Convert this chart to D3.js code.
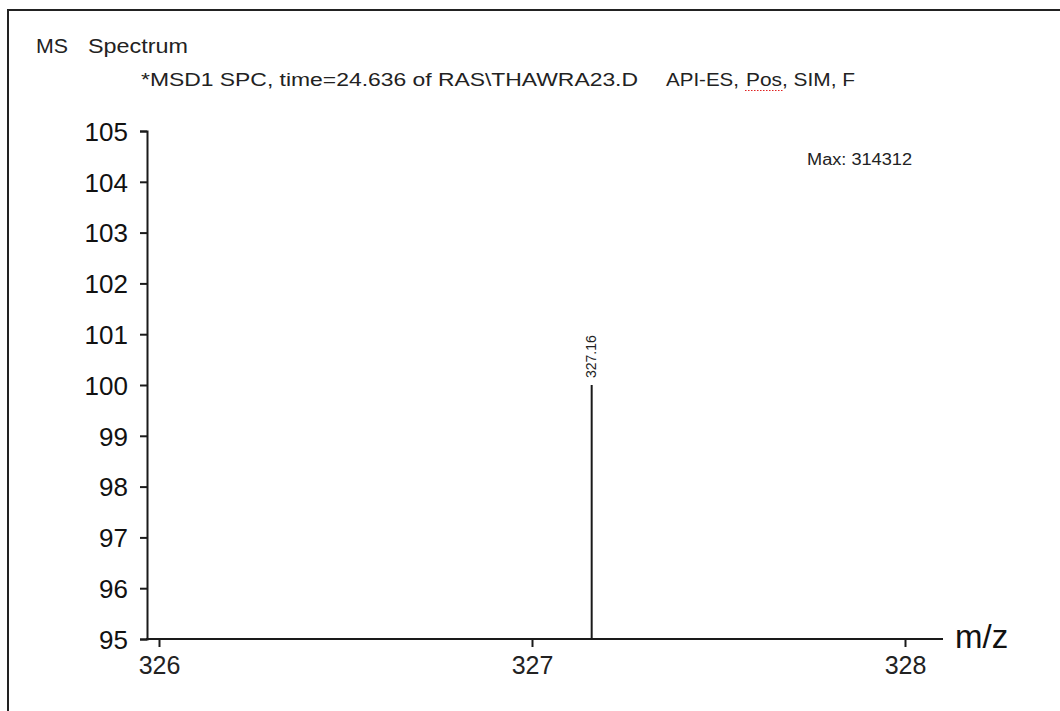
<!DOCTYPE html>
<html>
<head>
<meta charset="utf-8">
<script src="https://cdn.jsdelivr.net/npm/d3@7"></script>
<style>
  html, body { margin: 0; padding: 0; background: #fff; }
  svg { display: block; }
</style>
</head>
<body>
<svg id="chart" width="1060" height="711"></svg>
<script>
// Spectrum data
const peakMz = [327.16];
const peakAbundance = [100];
const peakLabels = ["327.16"];
const yTicks = [95, 96, 97, 98, 99, 100, 101, 102, 103, 104, 105];
const xTicks = [326, 327, 328];
const titleMain = ["MS", "Spectrum"];
const titleSub = ["*MSD1 SPC, time=24.636 of RAS\\THAWRA23.D", "API-ES,", "Pos", ", SIM, F"];
const maxLabel = "Max: 314312";
const xLabel = "m/z";

const svg = d3.select("#chart");
const ink = "#1a1a1a";

// Outer frame (left and top edges)
svg.append("path")
  .attr("d", "M8,711 V10 H1060")
  .attr("fill", "none")
  .attr("stroke", "#222")
  .attr("stroke-width", 2);

// Header text
const hdrFont = "'Liberation Sans', Arial, sans-serif";
svg.append("text").attr("x", 36).attr("y", 53)
  .attr("font-family", hdrFont).attr("font-size", 21).attr("fill", "#222")
  .attr("textLength", 32).attr("lengthAdjust", "spacingAndGlyphs")
  .text(titleMain[0]);
svg.append("text").attr("x", 88).attr("y", 53)
  .attr("font-family", hdrFont).attr("font-size", 21).attr("fill", "#222")
  .attr("textLength", 100).attr("lengthAdjust", "spacingAndGlyphs")
  .text(titleMain[1]);

svg.append("text").attr("x", 141).attr("y", 86)
  .attr("font-family", hdrFont).attr("font-size", 18).attr("fill", "#222")
  .attr("textLength", 497).attr("lengthAdjust", "spacingAndGlyphs")
  .text(titleSub[0]);
svg.append("text").attr("x", 666).attr("y", 86)
  .attr("font-family", hdrFont).attr("font-size", 18).attr("fill", "#222")
  .attr("textLength", 73).attr("lengthAdjust", "spacingAndGlyphs")
  .text(titleSub[1]);
svg.append("text").attr("x", 746).attr("y", 86)
  .attr("font-family", hdrFont).attr("font-size", 18).attr("fill", "#222")
  .attr("textLength", 36).attr("lengthAdjust", "spacingAndGlyphs")
  .text(titleSub[2]);
svg.append("text").attr("x", 782).attr("y", 86)
  .attr("font-family", hdrFont).attr("font-size", 18).attr("fill", "#222")
  .attr("textLength", 73).attr("lengthAdjust", "spacingAndGlyphs")
  .text(titleSub[3]);
// Spell-check squiggle under "Pos"
svg.append("line")
  .attr("x1", 745).attr("x2", 783).attr("y1", 90.5).attr("y2", 90.5)
  .attr("stroke", "#e02020").attr("stroke-width", 1.2)
  .attr("stroke-dasharray", "1.5,1.5");

// Scales
const x = d3.scaleLinear().domain([326, 328]).range([159, 905]);
const y = d3.scaleLinear().domain([95, 105]).range([639, 131]);

const axisFont = "'Liberation Sans', Arial, sans-serif";

// Y axis
const yAxis = svg.append("g")
  .attr("transform", "translate(147,0)")
  .call(d3.axisLeft(y).tickValues(yTicks).tickFormat(d3.format("d")).tickSizeOuter(0).tickSize(7).tickPadding(12));
yAxis.select(".domain").attr("stroke", ink).attr("stroke-width", 2);
yAxis.selectAll(".tick line").attr("stroke", ink).attr("stroke-width", 2);
yAxis.selectAll(".tick text")
  .attr("font-family", axisFont).attr("font-size", 26).attr("fill", "#111")
  .attr("dy", "0.36em");

// X axis line extends past the last tick
svg.append("line")
  .attr("x1", 146).attr("x2", 943).attr("y1", y(95)).attr("y2", y(95))
  .attr("stroke", ink).attr("stroke-width", 2);
const xAxis = svg.append("g")
  .attr("transform", `translate(0,${y(95)})`)
  .call(d3.axisBottom(x).tickValues(xTicks).tickFormat(d3.format("d")).tickSizeOuter(0).tickSize(8).tickPadding(9));
xAxis.select(".domain").remove();
xAxis.selectAll(".tick line").attr("stroke", ink).attr("stroke-width", 2);
xAxis.selectAll(".tick text")
  .attr("font-family", axisFont).attr("font-size", 25).attr("fill", "#222");

svg.append("text")
  .attr("x", 955).attr("y", 648)
  .attr("font-family", axisFont).attr("font-size", 33).attr("fill", "#111")
  .text(xLabel);

// Peaks
const peaks = peakMz.map((mz, i) => ({ mz, ab: peakAbundance[i], label: peakLabels[i] }));
svg.selectAll("line.peak").data(peaks).enter().append("line")
  .attr("class", "peak")
  .attr("x1", d => x(d.mz)).attr("x2", d => x(d.mz))
  .attr("y1", y(95)).attr("y2", d => y(d.ab))
  .attr("stroke", ink).attr("stroke-width", 2);
svg.selectAll("text.peak-label").data(peaks).enter().append("text")
  .attr("class", "peak-label")
  .attr("transform", d => `translate(${x(d.mz) + 4},${y(d.ab) - 7}) rotate(-90)`)
  .attr("font-family", axisFont).attr("font-size", 14).attr("fill", "#222")
  .text(d => d.label);

// Max intensity note
svg.append("text")
  .attr("x", 807).attr("y", 165)
  .attr("font-family", axisFont).attr("font-size", 16).attr("fill", "#222")
  .attr("textLength", 105).attr("lengthAdjust", "spacingAndGlyphs")
  .text(maxLabel);
</script>
</body>
</html>
